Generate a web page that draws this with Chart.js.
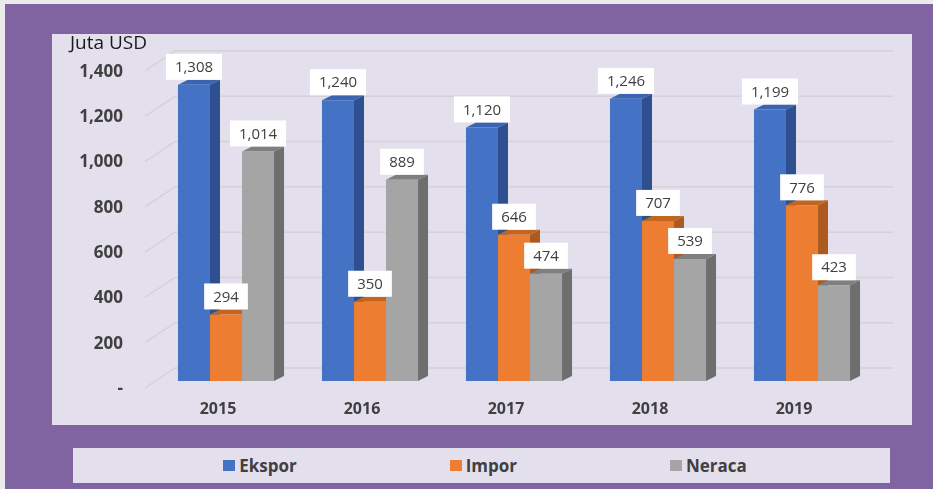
<!DOCTYPE html>
<html>
<head>
<meta charset="utf-8">
<script src="https://cdn.jsdelivr.net/npm/chart.js"></script>
<style>
  html, body { margin: 0; padding: 0; }
  body { width: 933px; height: 489px; background: #ebebeb; position: relative; overflow: hidden; font-family: 'Open Sans', sans-serif; }
  #frame { position: absolute; left: 5px; top: 4px; width: 928px; height: 485px; background: #8064a2; }
  #panel { position: absolute; left: 52px; top: 34px; width: 860px; height: 391px; background: #e4dfec; }
  #unit { position: absolute; left: 70px; top: 29px; font-size: 19px; color: #1a1a1a; }
  #legend { position: absolute; left: 73px; top: 448px; width: 817px; height: 35px; background: #e4dfec;
            display: flex; justify-content: center; align-items: center; gap: 153px; padding-left: 7px; box-sizing: border-box; }
  .item { display: flex; align-items: center; font-weight: bold; font-size: 17px; color: #404040; }
  .sw { width: 12px; height: 11px; margin-right: 4px; }
  #c { position: absolute; left: 0; top: 0; }
</style>
</head>
<body>
<div id="frame"></div>
<div id="panel"></div>
<canvas id="c" width="933" height="489"></canvas>
<div id="unit">Juta USD</div>
<div id="legend"></div>
<script>
const years = ['2015', '2016', '2017', '2018', '2019'];
const ekspor = [1308, 1240, 1120, 1246, 1199];
const impor = [294, 350, 646, 707, 776];
const neraca = [1014, 889, 474, 539, 423];
const yTicks = [0, 200, 400, 600, 800, 1000, 1200, 1400];

const seriesNames = ['Ekspor', 'Impor', 'Neraca'];
const faceColors = ['#4472c4', '#ed7d31', '#a5a5a5'];
const sideColors = ['#2e5091', '#ad5a20', '#6e6e6e'];
const topColors = ['#3a64b2', '#c2661f', '#7f7f7f'];

// depth of the fake 3d
const DX = 10, DY = 5;

const fmt = v => v === 0 ? '-' : v.toLocaleString('en-US');

const bar3d = {
    id: 'bar3d',
    beforeDatasetsDraw(chart) {
        const ctx = chart.ctx;
        const y = chart.scales.y;
        const a = chart.chartArea;
        ctx.save();
        // floor edge + back wall gridlines
        ctx.strokeStyle = '#d4d1da';
        ctx.lineWidth = 1.5;
        yTicks.forEach(v => {
            const py = y.getPixelForValue(v);
            ctx.beginPath();
            ctx.moveTo(a.left - 9, py + 7);
            ctx.lineTo(a.left + 21, py - 13);
            ctx.lineTo(a.right + 19, py - 13);
            ctx.stroke();
        });
        // side and top faces, fronts are drawn by chart.js on top
        years.forEach((_, i) => {
            chart.data.datasets.forEach((ds, d) => {
                const bar = chart.getDatasetMeta(d).data[i];
                const x0 = bar.x - bar.width / 2, x1 = bar.x + bar.width / 2;
                const yt = bar.y, yb = bar.base;
                ctx.fillStyle = sideColors[d];
                ctx.beginPath();
                ctx.moveTo(x1, yt);
                ctx.lineTo(x1 + DX, yt - DY);
                ctx.lineTo(x1 + DX, yb - DY);
                ctx.lineTo(x1, yb);
                ctx.closePath();
                ctx.fill();
                ctx.fillStyle = topColors[d];
                ctx.beginPath();
                ctx.moveTo(x0, yt);
                ctx.lineTo(x0 + DX, yt - DY);
                ctx.lineTo(x1 + DX, yt - DY);
                ctx.lineTo(x1, yt);
                ctx.closePath();
                ctx.fill();
            });
        });
        ctx.restore();
    },
    afterDatasetsDraw(chart) {
        const ctx = chart.ctx;
        ctx.save();
        ctx.font = '15px "Open Sans"';
        ctx.textAlign = 'center';
        ctx.textBaseline = 'middle';
        chart.data.datasets.forEach((ds, d) => {
            chart.getDatasetMeta(d).data.forEach((bar, i) => {
                const txt = fmt(ds.data[i]);
                const w = ctx.measureText(txt).width + 18, h = 26;
                const bottom = bar.y - DY;
                ctx.fillStyle = '#ffffff';
                ctx.fillRect(bar.x - w / 2, bottom - h, w, h);
                ctx.fillStyle = '#404040';
                ctx.fillText(txt, bar.x, bottom - h / 2 + 1);
            });
        });
        ctx.restore();
    }
};

const seriesData = [ekspor, impor, neraca];

new Chart(document.getElementById('c'), {
    type: 'bar',
    data: {
        labels: years,
        datasets: seriesNames.map((name, i) => ({
            label: name,
            data: seriesData[i],
            backgroundColor: faceColors[i],
            borderWidth: 0,
            categoryPercentage: 0.667,
            barPercentage: 1
        }))
    },
    options: {
        responsive: false,
        animation: false,
        layout: { padding: { left: 40, right: 59, top: 64, bottom: 68 } },
        plugins: { legend: { display: false }, tooltip: { enabled: false } },
        scales: {
            x: {
                grid: { display: false, drawTicks: false },
                border: { display: false },
                ticks: {
                    font: { family: 'Open Sans', size: 16, weight: 'bold' },
                    color: '#404040',
                    padding: 19,
                    labelOffset: -8
                },
                afterFit(s) { s.height = 40; }
            },
            y: {
                min: 0,
                max: 1400,
                grid: { display: false, drawTicks: false },
                border: { display: false },
                ticks: {
                    stepSize: 200,
                    padding: 31,
                    labelOffset: 8,
                    font: { family: 'Open Sans', size: 17, weight: 'bold' },
                    color: '#404040',
                    callback: v => fmt(v)
                },
                afterFit(s) { s.width = 114; }
            }
        }
    },
    plugins: [bar3d]
});

const legend = document.getElementById('legend');
seriesNames.forEach((name, i) => {
    const item = document.createElement('div');
    item.className = 'item';
    item.innerHTML = `<span class="sw" style="background:${faceColors[i]}"></span>${name}`;
    legend.appendChild(item);
});
</script>
</body>
</html>
